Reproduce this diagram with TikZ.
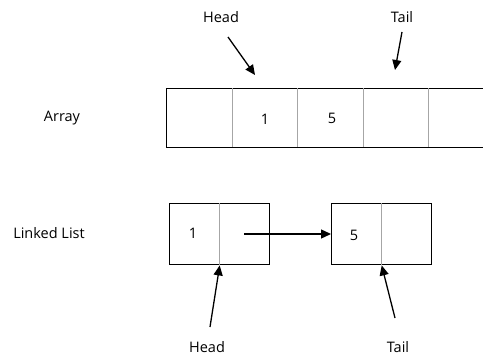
\documentclass[tikz,border=0pt]{standalone}
\usepackage{fontspec}
\setmainfont{Open Sans}
\usetikzlibrary{arrows.meta}
\begin{document}
\begin{tikzpicture}[x=1pt,y=-1pt,
  lbl/.style={font=\fontsize{14.5}{16}\selectfont, inner sep=0pt},
  outer/.style={draw=black, line width=1.4pt},
  divider/.style={draw=gray!70, line width=1pt},
  ptr/.style={draw=black, line width=1.3pt, -{Triangle[length=10pt,width=9pt]}}]
\useasboundingbox (0,0) rectangle (483,356);
\begin{scope}
\clip (0,0) rectangle (483,356);
% Array
\node[outer, minimum width=328pt, minimum height=59pt, inner sep=0pt, anchor=north west] (arr) at (166,88) {};
\foreach \xx in {232,297,363,428} \draw[divider] (\xx,88) -- (\xx,147);
\end{scope}
\node[lbl] (a1) at (265,119) {1};
\node[lbl] (a5) at (332,118) {5};
\node[lbl] (arrlbl) at (62,118) {Array};
\node[lbl] (headA) at (221,17) {Head};
\node[lbl] (tailA) at (402,17) {Tail};
\coordinate (hA0) at (228,37);
\coordinate (hA1) at (255,75);
\coordinate (tA0) at (402,32);
\coordinate (tA1) at (395,70);
\draw[ptr] (hA0) -- (hA1);
\draw[ptr] (tA0) -- (tA1);
% Linked list
\node[outer, minimum width=100pt, minimum height=61pt, inner sep=0pt, anchor=north west] (n1) at (169,203) {};
\node[outer, minimum width=100pt, minimum height=61pt, inner sep=0pt, anchor=north west] (n2) at (331,203) {};
\draw[divider] (n1.north) -- (n1.south);
\draw[divider] (n2.north) -- (n2.south);
\node[lbl] (l1) at (193,233) {1};
\node[lbl] (l5) at (354,235) {5};
\node[lbl] (lllbl) at (49,233) {Linked List};
\coordinate (nx) at (244,234);
\draw[ptr] (nx) -- (n2.west |- nx);
\node[lbl] (headL) at (207,347) {Head};
\node[lbl] (tailL) at (398,347) {Tail};
\coordinate (hL0) at (210,327);
\coordinate (tL0) at (395,318);
\draw[ptr] (hL0) -- (n1.south);
\draw[ptr] (tL0) -- (n2.south);
\end{tikzpicture}
\end{document}
